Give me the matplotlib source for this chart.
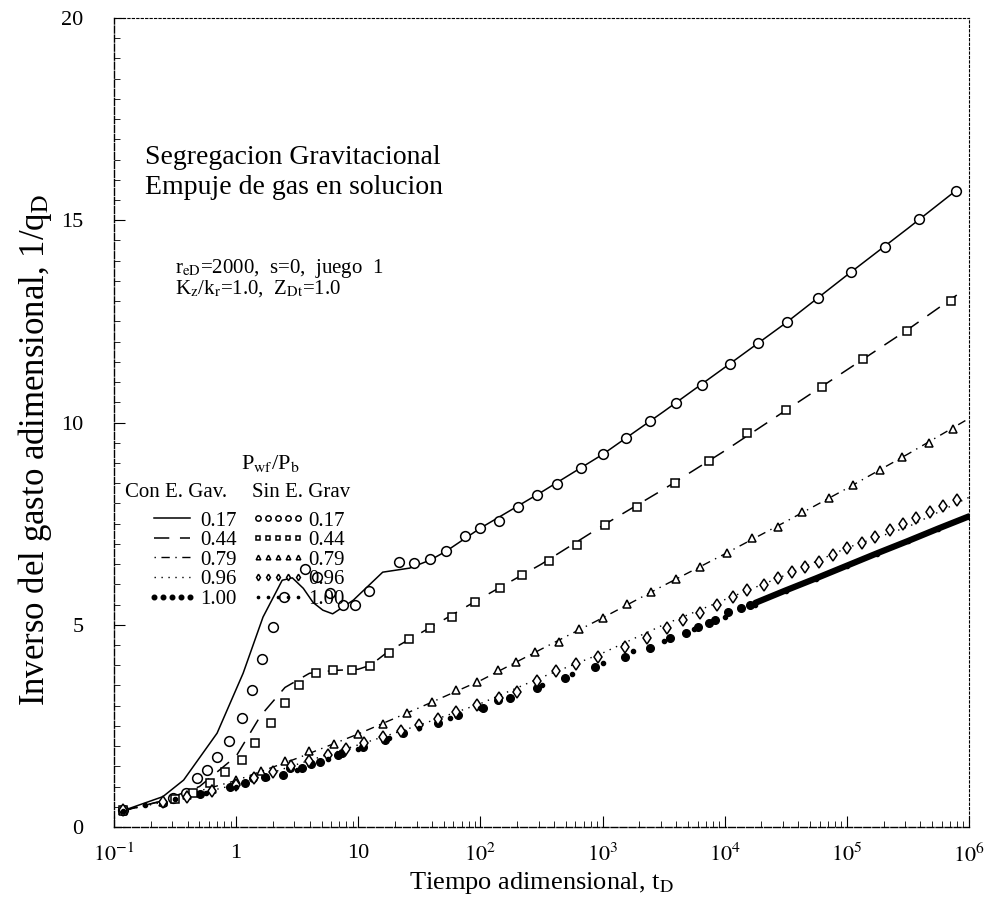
import numpy as np
import matplotlib
matplotlib.use("Agg")
import matplotlib.pyplot as plt
from matplotlib.ticker import FixedLocator, LogLocator, MultipleLocator, NullFormatter

plt.rcParams['font.family'] = 'serif'
plt.rcParams['font.serif'] = ['Liberation Serif', 'DejaVu Serif']
plt.rcParams['mathtext.fontset'] = 'stix'

# --- datos (log10 tD, 1/qD) ---
# Pwf/Pb = 0.17, con efecto gravitacional (linea continua)
lt_017g = [-0.93, -0.6, -0.43, -0.156, 0.057, 0.22, 0.377, 0.46, 0.55, 0.63,
           0.71, 0.79, 0.876, 0.96, 1.2, 1.42, 1.59, 1.72, 2.0, 2.5,
           3.0, 3.5, 4.0, 4.5, 5.0, 5.5, 5.9]
q_017g = [0.4, 0.75, 1.16, 2.32, 3.8, 5.19, 6.1, 6.16, 5.9, 5.55,
          5.36, 5.27, 5.44, 5.61, 6.3, 6.4, 6.6, 6.82, 7.39, 8.28,
          9.21, 10.27, 11.36, 12.46, 13.64, 14.8, 15.75]

# Pwf/Pb = 0.17, sin efecto gravitacional (circulos)
lt_017s = [-0.93, -0.52, -0.41, -0.32, -0.237, -0.156, -0.057, 0.049, 0.131, 0.213,
           0.303, 0.393, 0.565, 0.663, 0.77, 0.876, 0.974, 1.09, 1.335, 1.457,
           1.59, 1.72, 1.87, 2.0, 2.15, 2.31, 2.46, 2.63, 2.82, 3.005,
           3.19, 3.39, 3.60, 3.815, 4.04, 4.27, 4.51, 4.765, 5.035, 5.31,
           5.59, 5.895]
q_017s = [0.42, 0.72, 0.84, 1.21, 1.41, 1.73, 2.13, 2.69, 3.39, 4.15,
          4.94, 5.69, 6.38, 6.18, 5.79, 5.49, 5.49, 5.83, 6.55, 6.53,
          6.62, 6.82, 7.19, 7.39, 7.56, 7.91, 8.21, 8.48, 8.88, 9.22,
          9.62, 10.04, 10.48, 10.93, 11.45, 11.97, 12.48, 13.08, 13.72, 14.34,
          15.03, 15.72]

# Pwf/Pb = 0.44
lt_044g = [-0.93, -0.6, -0.3, 0.0, 0.2, 0.4, 0.6, 0.8, 1.0, 1.1,
           1.25, 1.6, 2.0, 2.5, 3.0, 3.5, 4.0, 4.5, 5.0, 5.5, 5.9]
q_044g = [0.4, 0.65, 1.0, 1.75, 2.75, 3.45, 3.8, 3.87, 3.9, 4.0,
          4.35, 4.95, 5.65, 6.5, 7.45, 8.35, 9.3, 10.3, 11.3, 12.3, 13.15]
lt_044s = [-0.93, -0.5, -0.35, -0.213, -0.09, 0.049, 0.156, 0.286, 0.40, 0.516,
           0.655, 0.79, 0.95, 1.097, 1.25, 1.416, 1.59, 1.77, 1.957, 2.16,
           2.34, 2.56, 2.79, 3.02, 3.28, 3.59, 3.87, 4.18, 4.5, 4.8,
           5.13, 5.49, 5.85]
q_044s = [0.42, 0.7, 0.85, 1.09, 1.36, 1.66, 2.08, 2.57, 3.07, 3.51,
          3.81, 3.88, 3.88, 3.98, 4.3, 4.65, 4.92, 5.19, 5.56, 5.9,
          6.23, 6.58, 6.97, 7.47, 7.91, 8.5, 9.05, 9.75, 10.3, 10.88,
          11.57, 12.26, 13.0]

# Pwf/Pb = 0.79
lt_079g = [-0.93, -0.5, 0.0, 0.5, 1.0, 1.5, 2.0, 2.5, 3.0, 3.5,
           4.0, 4.5, 5.0, 5.5, 6.0]
q_079g = [0.4, 0.72, 1.15, 1.7, 2.3, 2.95, 3.62, 4.4, 5.17, 5.97,
          6.75, 7.55, 8.37, 9.22, 10.1]
lt_079s = [-0.93, -0.6, -0.4, -0.2, 0.0, 0.2, 0.4, 0.6, 0.8, 1.0,
           1.2, 1.4, 1.6, 1.8, 1.97, 2.14, 2.29, 2.45, 2.64, 2.81,
           3.0, 3.2, 3.4, 3.6, 3.8, 4.02, 4.22, 4.44, 4.63, 4.85,
           5.05, 5.27, 5.45, 5.67, 5.87]
q_079s = [0.4, 0.62, 0.78, 0.95, 1.15, 1.38, 1.62, 1.88, 2.05, 2.3,
          2.55, 2.82, 3.1, 3.38, 3.58, 3.88, 4.08, 4.33, 4.57, 4.89,
          5.17, 5.51, 5.81, 6.13, 6.43, 6.77, 7.14, 7.42, 7.79, 8.13,
          8.45, 8.83, 9.15, 9.49, 9.84]

# Pwf/Pb = 0.96
lt_096g = [-0.93, -0.5, 0.0, 0.5, 1.0, 1.5, 2.0, 2.5, 3.0, 3.5,
           4.0, 4.5, 5.0, 5.5, 6.0]
q_096g = [0.4, 0.68, 1.05, 1.55, 2.03, 2.52, 3.05, 3.7, 4.3, 5.0,
          5.62, 6.23, 6.9, 7.42, 8.15]
lt_096s = [-0.93, -0.6, -0.4, -0.2, 0.0, 0.15, 0.3, 0.45, 0.6, 0.75,
           0.9, 1.05, 1.2, 1.35, 1.5, 1.65, 1.8, 1.97, 2.15, 2.3,
           2.46, 2.62, 2.78, 2.96, 3.18, 3.36, 3.53, 3.66, 3.8, 3.94,
           4.07, 4.18, 4.32, 4.44, 4.55, 4.66, 4.77, 4.89, 5.0, 5.12,
           5.23, 5.35, 5.46, 5.57, 5.68, 5.79, 5.9]
q_096s = [0.42, 0.62, 0.75, 0.9, 1.05, 1.22, 1.36, 1.5, 1.62, 1.78,
          1.92, 2.08, 2.22, 2.38, 2.52, 2.68, 2.84, 3.02, 3.18, 3.34,
          3.62, 3.85, 4.02, 4.2, 4.45, 4.67, 4.92, 5.12, 5.29, 5.49,
          5.69, 5.86, 5.98, 6.16, 6.3, 6.43, 6.55, 6.72, 6.9, 7.02,
          7.17, 7.34, 7.49, 7.63, 7.79, 7.94, 8.08]

# Pwf/Pb = 1.00
lt_100g = [-0.93, -0.6, -0.3, -0.05, 0.07, 0.14, 0.24, 0.38, 0.44, 0.54,
           0.61, 0.69, 0.83, 0.87, 1.04, 1.22, 1.37, 1.65, 1.82, 2.02,
           2.14, 2.24, 2.46, 2.69, 2.94, 3.18, 3.39, 3.55, 3.68, 3.78,
           3.87, 3.92, 4.03, 4.13, 4.21, 4.25, 4.5, 4.75, 5.0, 5.25,
           5.5, 5.75, 6.0]
q_100g = [0.4, 0.6, 0.82, 0.99, 1.09, 1.21, 1.24, 1.29, 1.46, 1.46,
          1.56, 1.61, 1.78, 1.83, 1.98, 2.15, 2.32, 2.57, 2.77, 2.94,
          3.14, 3.19, 3.44, 3.68, 3.96, 4.2, 4.42, 4.67, 4.8, 4.94,
          5.04, 5.12, 5.31, 5.41, 5.49, 5.54, 5.85, 6.15, 6.46, 6.77,
          7.07, 7.38, 7.68]
lt_100s = [-0.93, -0.75, -0.5, -0.25, 0.0, 0.25, 0.5, 0.75, 1.0, 1.25,
           1.5, 1.75, 2.0, 2.25, 2.5, 2.75, 3.0, 3.25, 3.5, 3.75,
           4.0, 4.25, 4.5, 4.75, 5.0, 5.25, 5.5, 5.75, 6.0]
q_100s = [0.4, 0.55, 0.68, 0.84, 1.0, 1.22, 1.42, 1.68, 1.93, 2.2,
          2.45, 2.7, 2.95, 3.2, 3.5, 3.78, 4.05, 4.35, 4.6, 4.9,
          5.2, 5.5, 5.83, 6.13, 6.45, 6.76, 7.06, 7.37, 7.67]

etiquetas = ['0.17', '0.44', '0.79', '0.96', '1.00']
xticks = [1e-1, 1, 10, 1e2, 1e3, 1e4, 1e5, 1e6]
xticklabels = ['$10^{-1}$', '1', '10', '$10^{2}$', '$10^{3}$', '$10^{4}$', '$10^{5}$', '$10^{6}$']

def t(lt):
    return 10.0 ** np.array(lt)

fig = plt.figure(figsize=(9.96, 9.07), dpi=100)
ax = fig.add_axes([114/996, 80/907, 855/996, 809/907])

k = 'black'
# con efecto gravitacional
l1, = ax.plot(t(lt_017g), q_017g, color=k, lw=1.1, ls='-')
l2, = ax.plot(t(lt_044g), q_044g, color=k, lw=1.1, dashes=(10, 7))
l3, = ax.plot(t(lt_079g), q_079g, color=k, lw=1.0, dashes=(1, 4, 6, 4))
l4, = ax.plot(t(lt_096g), q_096g, color=k, lw=1.0, dashes=(1, 4))
t100g = t(lt_100g)
q100g = np.array(q_100g)
late = t100g >= 10 ** 4.25
l5, = ax.plot(t100g[~late], q100g[~late], 'o', color=k, ms=5.5, ls='none')
ax.plot(t100g[late], q100g[late], color=k, lw=4.5, solid_capstyle='round')

# sin efecto gravitacional
mk = dict(mfc='white', mec=k, mew=1.1, ls='none')
m1, = ax.plot(t(lt_017s), q_017s, 'o', ms=7, **mk)
m2, = ax.plot(t(lt_044s), q_044s, 's', ms=5.5, **mk)
m3, = ax.plot(t(lt_079s), q_079s, '^', ms=6, **mk)
m4, = ax.plot(t(lt_096s), q_096s, 'd', ms=6, **mk)
m5, = ax.plot(t(lt_100s), q_100s, 'o', color=k, ms=3, ls='none')

ax.set_xscale('log')
ax.set_xlim(1e-1, 1e6)
ax.set_ylim(0, 20)
ax.xaxis.set_major_locator(FixedLocator(xticks))
ax.set_xticklabels(xticklabels)
ax.xaxis.set_minor_locator(LogLocator(base=10, subs=np.arange(2, 10)))
ax.xaxis.set_minor_formatter(NullFormatter())
ax.set_yticks([0, 5, 10, 15, 20])
ax.yaxis.set_minor_locator(MultipleLocator(0.5))
ax.tick_params(axis='both', which='major', direction='in', length=8, width=0.8, labelsize=16)
ax.tick_params(axis='both', which='minor', direction='in', length=4, width=0.6)
ax.tick_params(axis='x', pad=12)
ax.tick_params(axis='y', pad=22)

for s in ['left', 'bottom']:
    ax.spines[s].set_linestyle((0, (5, 1.5)))
    ax.spines[s].set_linewidth(1.0)
for s in ['top', 'right']:
    ax.spines[s].set_linestyle((0, (2, 2)))
    ax.spines[s].set_linewidth(0.8)

ax.set_xlabel(r'Tiempo adimensional, t$_\mathrm{D}$', fontsize=19, labelpad=2)
fig.text(35/996, 1 - 450/907, r'Inverso del gasto adimensional, 1/q$_\mathrm{D}$', rotation=90,
         fontsize=25, ha='center', va='center')

# textos
fig.text(145/996, 1 - 158/907, 'Segregacion Gravitacional', fontsize=20, va='center')
fig.text(145/996, 1 - 187/907, 'Empuje de gas en solucion', fontsize=20, va='center')
fig.text(175/996, 1 - 268/907, r'r$_\mathrm{eD}$=2000,  s=0,  juego  1', fontsize=15, va='center')
fig.text(175/996, 1 - 289/907, r'K$_\mathrm{z}$/k$_\mathrm{r}$=1.0,  Z$_\mathrm{Dt}$=1.0', fontsize=15, va='center')
fig.text(270/996, 1 - 463/907, r'P$_\mathrm{wf}$/P$_\mathrm{b}$', fontsize=16, ha='center', va='center')
fig.text(125/996, 1 - 493/907, 'Con E. Gav.', fontsize=15, va='center')
fig.text(252/996, 1 - 493/907, 'Sin E. Grav', fontsize=15, va='center')

leg1 = fig.legend([l1, l2, l3, l4, l5], etiquetas, loc='upper left',
                  bbox_to_anchor=(148/996, 1 - 511/907), frameon=False, fontsize=15,
                  handlelength=2.3, handletextpad=0.2, labelspacing=0.0,
                  borderpad=0, borderaxespad=0, numpoints=5, markerscale=0.6)
leg2 = fig.legend([m1, m2, m3, m4, m5], etiquetas, loc='upper left',
                  bbox_to_anchor=(252/996, 1 - 511/907), frameon=False, fontsize=15,
                  handlelength=2.5, handletextpad=0.2, labelspacing=0.0,
                  borderpad=0, borderaxespad=0, numpoints=5, markerscale=0.55)

fig.savefig('out.png', dpi=100)
